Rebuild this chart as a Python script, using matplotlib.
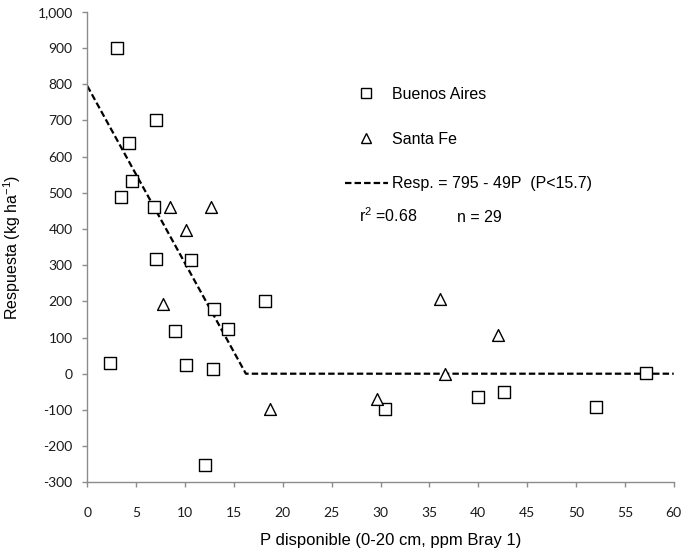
import matplotlib
matplotlib.use('Agg')
import matplotlib.pyplot as plt
from matplotlib.lines import Line2D
from matplotlib.ticker import FuncFormatter

plt.rcParams['font.family'] = ['Liberation Sans', 'DejaVu Sans']
plt.rcParams['mathtext.fontset'] = 'custom'
plt.rcParams['mathtext.rm'] = 'Liberation Sans'
plt.rcParams['mathtext.it'] = 'Liberation Sans'
plt.rcParams['mathtext.default'] = 'regular'

# P disponible (ppm) and yield response (kg/ha) per site
ba_p = [3.0, 7.0, 4.3, 4.6, 3.5, 6.8, 7.0, 10.6, 9.0, 13.0, 14.4, 18.2,
        2.3, 10.1, 12.9, 12.0, 57.2, 30.5, 40.0, 42.6, 52.0]
ba_resp = [900, 700, 636, 532, 489, 461, 318, 313, 118, 180, 124, 200,
           29, 25, 14, -252, 2, -97, -65, -51, -92]

sf_p = [8.5, 12.7, 10.1, 7.7, 18.7, 36.1, 42.0, 36.6, 29.6]
sf_resp = [461, 461, 396, 192, -97, 207, 106, 0, -69]

# linear-plateau fit
intercept = 795
slope = 49
p_max = 60

x_ticks = list(range(0, 61, 5))
y_ticks = list(range(-300, 1001, 100))

fig = plt.figure(figsize=(6.84, 5.5), dpi=100)
ax = fig.add_axes([0.1276, 0.1231, 0.8574, 0.8556])

p_break = intercept / slope
ax.plot([0, p_break, p_max], [intercept, 0, 0], color='black', lw=1.6,
        dashes=(2.9, 1.4), zorder=1)

ax.scatter(ba_p, ba_resp, marker='s', s=8.5 ** 2, facecolor='white',
           edgecolor='black', linewidth=1.0, zorder=3)
ax.scatter(sf_p, sf_resp, marker='^', s=8.5 ** 2, facecolor='white',
           edgecolor='black', linewidth=1.0, zorder=3)

ax.set_xlim(0, 60)
ax.set_ylim(-300, 1000)
ax.set_xticks(x_ticks)
ax.set_yticks(y_ticks)
ax.yaxis.set_major_formatter(FuncFormatter(lambda v, pos: f'{int(v):,}'))

for side in ['top', 'right']:
    ax.spines[side].set_visible(False)
for side in ['left', 'bottom']:
    ax.spines[side].set_color('#8c8c8c')
    ax.spines[side].set_linewidth(1.0)
ax.tick_params(direction='out', length=3.5, width=1.0, color='#8c8c8c',
               labelcolor='#1a1a1a')
ax.tick_params(axis='y', pad=7)
ax.tick_params(axis='x', pad=14)
for lbl in ax.get_xticklabels() + ax.get_yticklabels():
    lbl.set_fontfamily('Lato')
    lbl.set_fontsize(10)

ax.set_xlabel('P disponible (0-20 cm, ppm Bray 1)', fontsize=12)
ax.xaxis.set_label_coords(0.517, -0.108)
ax.set_ylabel('Respuesta (kg ha$^{-1}$)', fontsize=11.5)
ax.yaxis.set_label_coords(-0.11, 0.5)

handles = [
    Line2D([], [], ls='none', marker='s', ms=7, mfc='white', mec='black', mew=1.0),
    Line2D([], [], ls='none', marker='^', ms=7, mfc='white', mec='black', mew=1.0),
    Line2D([], [], color='black', lw=1.6, dashes=(2.9, 1.4)),
]
labels = ['Buenos Aires', 'Santa Fe', 'Resp. = 795 - 49P  (P<15.7)']
ax.legend(handles, labels, loc='upper left', bbox_to_anchor=(0.439, 0.84),
          frameon=False, fontsize=11.5, handlelength=2.7, handletextpad=0.28,
          labelspacing=1.86, borderpad=0, borderaxespad=0)

ax.text(0.463, 0.553, 'r$^2$ =0.68', transform=ax.transAxes,
        fontsize=11.5, va='baseline', ha='left')
ax.text(0.630, 0.553, 'n = 29', transform=ax.transAxes,
        fontsize=11.5, va='baseline', ha='left')

fig.savefig('out.png', dpi=100)
